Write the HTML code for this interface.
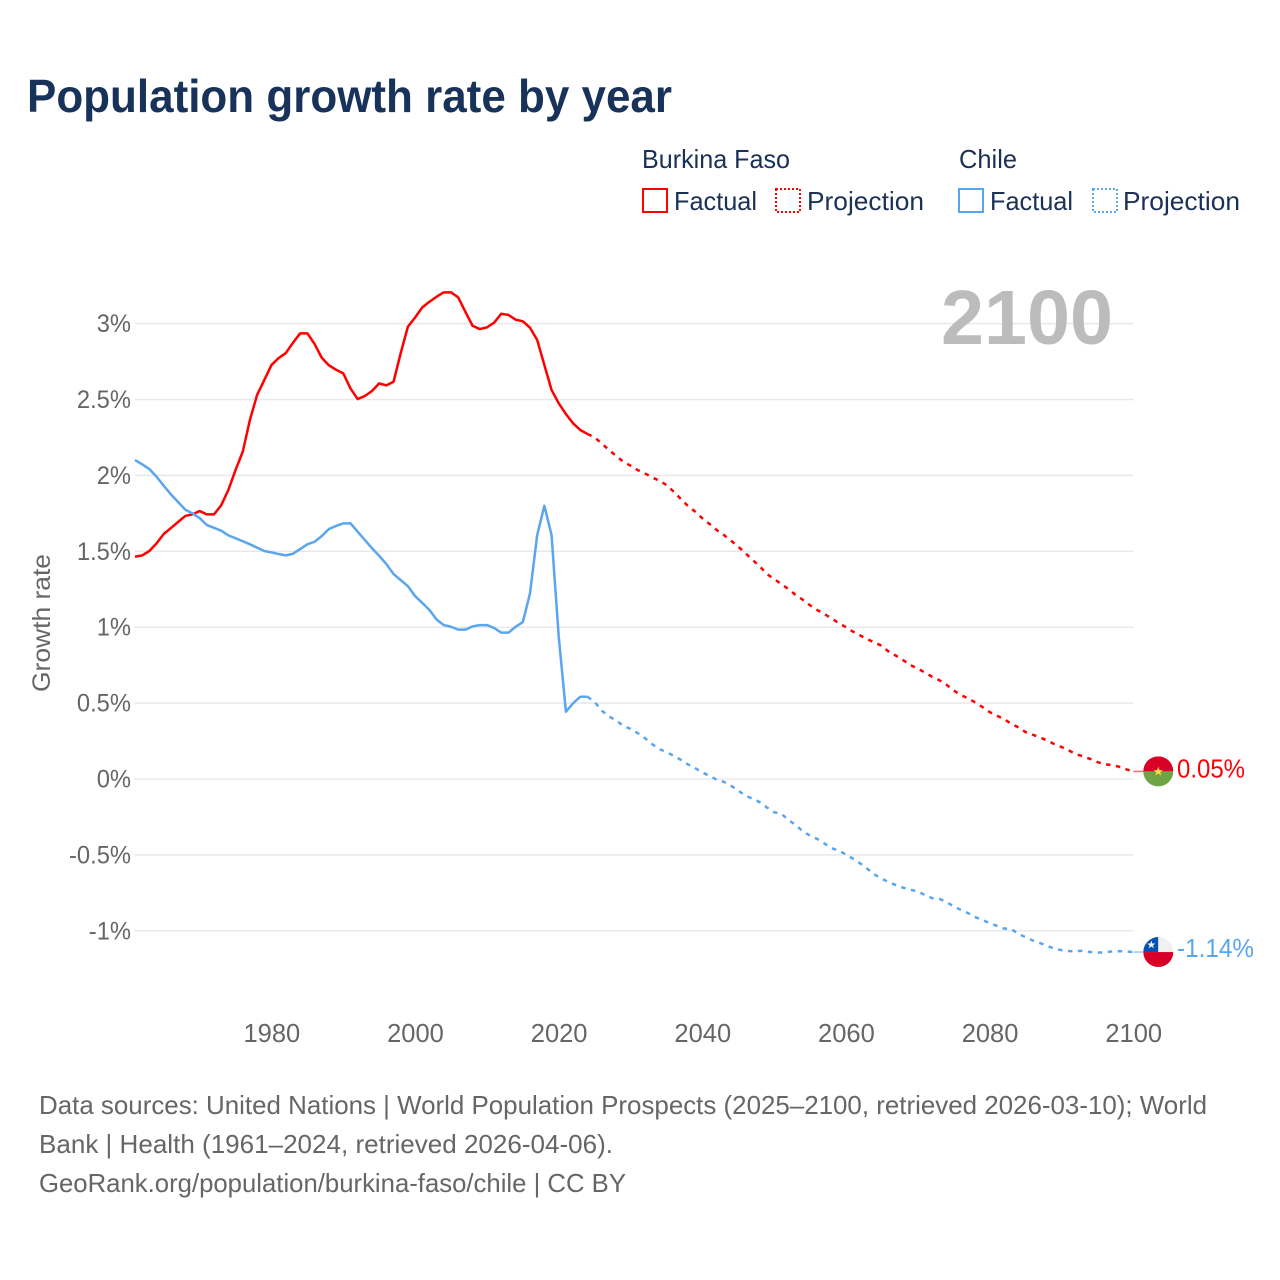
<!DOCTYPE html>
<html lang="en">
<head>
<meta charset="utf-8">
<title>Population growth rate by year</title>
<style>
html,body{margin:0;padding:0;background:#fff;}
svg{display:block;font-family:"Liberation Sans",sans-serif;}
</style>
</head>
<body>
<svg id="chart" xmlns="http://www.w3.org/2000/svg" width="1280" height="1280" viewBox="0 0 1280 1280">
  <rect x="0" y="0" width="1280" height="1280" fill="#fff"/>
  <text x="27" y="112" font-size="46" font-weight="700" fill="#18325a" textLength="645" lengthAdjust="spacingAndGlyphs">Population growth rate by year</text>

  <g font-size="26" fill="#1a3055">
    <text x="642" y="168" textLength="148" lengthAdjust="spacingAndGlyphs">Burkina Faso</text>
    <text x="959" y="168" textLength="58" lengthAdjust="spacingAndGlyphs">Chile</text>
    <rect x="643" y="189" width="24" height="23" fill="none" stroke="#ff0000" stroke-width="2"/>
    <text x="674" y="210" textLength="83" lengthAdjust="spacingAndGlyphs">Factual</text>
    <rect x="776" y="189" width="24" height="23" fill="none" stroke="#ff0000" stroke-width="2" stroke-dasharray="2 2"/>
    <text x="807" y="210" textLength="117" lengthAdjust="spacingAndGlyphs">Projection</text>
    <rect x="959" y="189" width="24" height="23" fill="none" stroke="#5aa5ef" stroke-width="2"/>
    <text x="990" y="210" textLength="83" lengthAdjust="spacingAndGlyphs">Factual</text>
    <rect x="1093" y="189" width="24" height="23" fill="none" stroke="#5aa5ef" stroke-width="2" stroke-dasharray="2 2"/>
    <text x="1123" y="210" textLength="117" lengthAdjust="spacingAndGlyphs">Projection</text>
  </g>

  <g id="grid"></g>
  <g id="y-ticks" font-size="25" fill="#666" text-anchor="end"></g>
  <g id="x-ticks" font-size="25.5" fill="#666" text-anchor="middle"></g>
  <text transform="translate(50,692) rotate(-90)" font-size="25" fill="#666" textLength="138" lengthAdjust="spacingAndGlyphs">Growth rate</text>

  <text id="year-label" x="1113" y="344" text-anchor="end" font-size="77" font-weight="700" fill="#bcbcbc" textLength="172" lengthAdjust="spacingAndGlyphs">2100</text>

  <g id="series"></g>

  <g id="flag-burkina">
    <clipPath id="clip-bf"><circle cx="0" cy="0" r="15"/></clipPath>
    <g clip-path="url(#clip-bf)">
      <rect x="-15" y="-15" width="30" height="15" fill="#d80027"/>
      <rect x="-15" y="0" width="30" height="15" fill="#6da544"/>
    </g>
    <polygon fill="#ffda44" points="0,-4.6 1.3,-1.3 4.6,-1.3 2,0.8 2.9,4 0,2.1 -2.9,4 -2,0.8 -4.6,-1.3 -1.3,-1.3"/>
  </g>
  <g id="flag-chile">
    <clipPath id="clip-cl"><circle cx="0" cy="0" r="15"/></clipPath>
    <g clip-path="url(#clip-cl)">
      <rect x="-15" y="-15" width="15" height="15" fill="#0052b4"/>
      <rect x="0" y="-15" width="15" height="15" fill="#f0f0f0"/>
      <rect x="-15" y="0" width="30" height="15" fill="#d80027"/>
    </g>
    <polygon fill="#f0f0f0" points="-7,-11.6 -5.9,-8.6 -2.8,-8.6 -5.3,-6.7 -4.4,-3.8 -7,-5.5 -9.6,-3.8 -8.7,-6.7 -11.2,-8.6 -8.1,-8.6"/>
  </g>
  <text id="end-label-burkina" x="1177" font-size="25.5" fill="#ff0000" textLength="68" lengthAdjust="spacingAndGlyphs"></text>
  <text id="end-label-chile" x="1177" font-size="25.5" fill="#5aa5ef" textLength="77" lengthAdjust="spacingAndGlyphs"></text>

  <g font-size="26" fill="#666">
    <text x="39" y="1114" textLength="1168" lengthAdjust="spacingAndGlyphs">Data sources: United Nations | World Population Prospects (2025–2100, retrieved 2026-03-10); World</text>
    <text x="39" y="1153" textLength="574" lengthAdjust="spacingAndGlyphs">Bank | Health (1961–2024, retrieved 2026-04-06).</text>
    <text x="39" y="1192" textLength="587" lengthAdjust="spacingAndGlyphs">GeoRank.org/population/burkina-faso/chile | CC BY</text>
  </g>
</svg>
<script>
const firstFactualYear = 1961;
const firstProjectionYear = 2025;
const xTickYears = [1980, 2000, 2020, 2040, 2060, 2080, 2100];
const yTickValues = [3, 2.5, 2, 1.5, 1, 0.5, 0, -0.5, -1];
const yTickLabels = ['3%', '2.5%', '2%', '1.5%', '1%', '0.5%', '0%', '-0.5%', '-1%'];
const endLabels = ['0.05%', '-1.14%'];
const burkinaFactual = [
  1.464,1.473,1.502,1.552,1.614,1.653,1.693,1.733,1.743,1.765,
  1.743,1.743,1.803,1.904,2.035,2.156,2.365,2.53,2.628,2.727,
  2.773,2.806,2.874,2.936,2.936,2.866,2.775,2.725,2.696,2.672,
  2.573,2.503,2.523,2.556,2.606,2.593,2.617,2.806,2.98,3.04,
  3.107,3.144,3.177,3.206,3.206,3.173,3.078,2.986,2.964,2.975,
  3.006,3.065,3.057,3.026,3.015,2.973,2.892,2.727,2.563,2.475,
  2.404,2.343,2.299,2.273
];
const chileFactual = [
  2.101,2.073,2.042,1.991,1.932,1.875,1.825,1.774,1.75,1.719,
  1.673,1.655,1.636,1.605,1.586,1.566,1.546,1.524,1.502,1.493,
  1.482,1.473,1.484,1.515,1.546,1.563,1.6,1.647,1.667,1.684,
  1.684,1.629,1.575,1.52,1.47,1.416,1.35,1.31,1.27,1.205,
  1.16,1.113,1.05,1.014,1.003,0.984,0.984,1.005,1.014,1.014,
  0.995,0.964,0.964,1.003,1.034,1.223,1.607,1.8,1.607,0.937,
  0.443,0.499,0.542,0.542
];
const burkinaProjection = [
  2.25,2.21,2.167,2.128,2.09,2.064,2.035,2.013,1.987,1.965,
  1.937,1.893,1.845,1.798,1.761,1.717,1.68,1.64,1.607,1.57,
  1.53,1.487,1.443,1.4,1.35,1.317,1.284,1.25,1.212,1.18,
  1.144,1.113,1.087,1.058,1.026,1.0,0.97,0.945,0.92,0.898,
  0.877,0.836,0.811,0.781,0.75,0.726,0.702,0.673,0.651,0.62,
  0.583,0.553,0.531,0.504,0.474,0.441,0.417,0.395,0.364,0.34,
  0.309,0.292,0.274,0.254,0.23,0.211,0.189,0.164,0.149,0.132,
  0.112,0.096,0.092,0.081,0.064,0.05
];
const chileProjection = [
  0.507,0.45,0.412,0.386,0.35,0.33,0.302,0.269,0.23,0.197,
  0.177,0.153,0.126,0.096,0.071,0.043,0.021,-0.005,-0.019,-0.045,
  -0.076,-0.111,-0.129,-0.153,-0.188,-0.219,-0.23,-0.269,-0.304,-0.346,
  -0.373,-0.395,-0.425,-0.456,-0.471,-0.498,-0.526,-0.557,-0.593,-0.63,
  -0.658,-0.68,-0.7,-0.717,-0.73,-0.741,-0.765,-0.785,-0.789,-0.811,
  -0.84,-0.862,-0.884,-0.91,-0.928,-0.95,-0.967,-0.985,-0.989,-1.02,
  -1.042,-1.064,-1.081,-1.099,-1.118,-1.127,-1.134,-1.134,-1.132,-1.14,
  -1.143,-1.143,-1.136,-1.134,-1.136,-1.14
];

const SVG_NS = 'http://www.w3.org/2000/svg';
const xScale = year => 135 + 7.182 * (year - 1961);
const yScale = value => 779 - 151.8 * value;

function svgEl(tag, parent) {
  const el = document.createElementNS(SVG_NS, tag);
  parent.appendChild(el);
  return el;
}
function pathFrom(startYear, values) {
  return values.map((v, i) => (i ? 'L' : 'M') + xScale(startYear + i).toFixed(2) + ' ' + yScale(v).toFixed(2)).join(' ');
}

const gridGroup = document.getElementById('grid');
const yTickGroup = document.getElementById('y-ticks');
yTickValues.forEach((v, i) => {
  const line = svgEl('line', gridGroup);
  
  
  line.setAttribute('x1', 134.5);
  line.setAttribute('x2', xScale(2100));
  line.setAttribute('y1', yScale(v));
  line.setAttribute('y2', yScale(v));
  line.setAttribute('stroke', '#e8e8e8');
  line.setAttribute('stroke-width', '1.5');
  const label = svgEl('text', yTickGroup);
  
  
  label.setAttribute('x', 131);
  label.setAttribute('y', yScale(v) + 8.5);
  label.textContent = yTickLabels[i];
  label.setAttribute('textLength', (label.getComputedTextLength() * 0.95).toFixed(1));
  label.setAttribute('lengthAdjust', 'spacingAndGlyphs');
});

const xTickGroup = document.getElementById('x-ticks');
xTickYears.forEach(year => {
  const label = svgEl('text', xTickGroup);
  
  
  label.setAttribute('x', xScale(year) + 0.4);
  label.setAttribute('y', 1042);
  label.textContent = String(year);
});

const seriesGroup = document.getElementById('series');
function drawSeries(factual, projection, color, nameKey) {
  const lastFactualYear = firstFactualYear + factual.length - 1;
  const lastValue = projection[projection.length - 1];
  const lastYear = firstProjectionYear + projection.length - 1;

  const factualLine = svgEl('path', seriesGroup);
  
  
  factualLine.setAttribute('d', pathFrom(firstFactualYear, factual));
  factualLine.setAttribute('fill', 'none');
  factualLine.setAttribute('stroke', color);
  factualLine.setAttribute('stroke-width', '2.5');
  factualLine.setAttribute('stroke-linejoin', 'round');

  const projectionLine = svgEl('path', seriesGroup);
  
  
  projectionLine.setAttribute('d', pathFrom(lastFactualYear, [factual[factual.length - 1]].concat(projection)));
  projectionLine.setAttribute('fill', 'none');
  projectionLine.setAttribute('stroke', color);
  projectionLine.setAttribute('stroke-width', '2.5');
  projectionLine.setAttribute('stroke-dasharray', '4.5 5.5');

  const connector = svgEl('line', seriesGroup);
  
  
  connector.setAttribute('x1', xScale(lastYear));
  connector.setAttribute('x2', xScale(lastYear) + 12);
  connector.setAttribute('y1', yScale(lastValue));
  connector.setAttribute('y2', yScale(lastValue));
  connector.setAttribute('stroke', color);
  connector.setAttribute('stroke-width', '1.5');
  connector.setAttribute('stroke-opacity', '0.6');
}
drawSeries(burkinaFactual, burkinaProjection, '#ff0000', 'burkina-faso');
drawSeries(chileFactual, chileProjection, '#5aa5ef', 'chile');

const burkinaEnd = burkinaProjection[burkinaProjection.length - 1];
const chileEnd = chileProjection[chileProjection.length - 1];
const endX = xScale(firstProjectionYear + burkinaProjection.length - 1) + 25;
document.getElementById('flag-burkina').setAttribute('transform', 'translate(' + endX + ',' + yScale(burkinaEnd) + ')');
document.getElementById('flag-chile').setAttribute('transform', 'translate(' + endX + ',' + yScale(chileEnd) + ')');
const burkinaLabel = document.getElementById('end-label-burkina');
burkinaLabel.setAttribute('y', yScale(burkinaEnd) + 6);
burkinaLabel.textContent = endLabels[0];
const chileLabel = document.getElementById('end-label-chile');
chileLabel.setAttribute('y', yScale(chileEnd) + 5);
chileLabel.textContent = endLabels[1];
</script>
</body>
</html>
